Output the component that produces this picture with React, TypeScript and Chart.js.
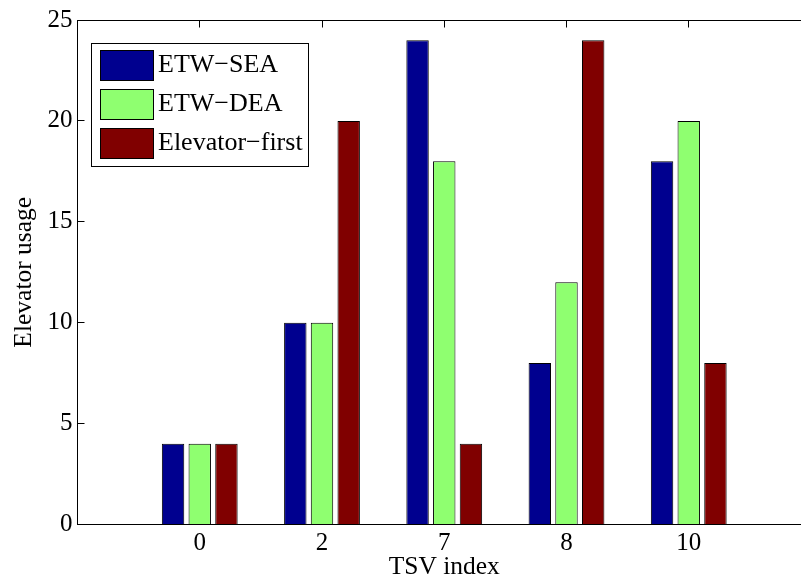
import React, { useEffect, useRef } from "react";
import { Chart, registerables } from "chart.js";

Chart.register(...registerables);

// ---- data ----
const categories = ["0", "2", "7", "8", "10"];
const seriesNames = ["ETW\u2212SEA", "ETW\u2212DEA", "Elevator\u2212first"];
const etwSea = [4, 10, 24, 8, 18];
const etwDea = [4, 10, 18, 12, 20];
const elevatorFirst = [4, 20, 4, 24, 8];
const yTicks = [0, 5, 10, 15, 20, 25];
const xTitle = "TSV index";
const yTitle = "Elevator usage";

// ---- style ----
const colors = ["#00008F", "#8FFF70", "#800000"];
const FONT = "'Liberation Serif', 'Times New Roman', serif";
const FS = 25;
const LFS = 26;
const CW = 830;
const CH = 584;

const framePlugin = {
  id: "matlabFrame",
  beforeDatasetsDraw(chart: any) {
    const { ctx, chartArea: a, scales } = chart;
    const x = scales.x;
    const y = scales.y;
    ctx.save();
    ctx.strokeStyle = "#000";
    ctx.lineWidth = 1;
    ctx.beginPath();
    const L = Math.floor(a.left) + 0.5;
    const R = Math.floor(a.right) + 0.5;
    const T = Math.floor(a.top) + 0.5;
    const B = Math.floor(a.bottom) + 0.5;
    for (const v of yTicks) {
      const py = Math.floor(y.getPixelForValue(v)) + 0.5;
      ctx.moveTo(L, py);
      ctx.lineTo(L + 7, py);
      ctx.moveTo(R, py);
      ctx.lineTo(R - 7, py);
    }
    for (let i = 0; i < categories.length; i++) {
      const px = Math.floor(x.getPixelForValue(i + 1)) + 0.5;
      ctx.moveTo(px, T);
      ctx.lineTo(px, T + 7);
      ctx.moveTo(px, B);
      ctx.lineTo(px, B - 7);
    }
    ctx.stroke();
    ctx.restore();
  },
  afterDatasetsDraw(chart: any) {
    const { ctx, chartArea: a } = chart;
    ctx.save();
    ctx.strokeStyle = "#000";
    ctx.lineWidth = 1;
    const L = Math.floor(a.left) + 0.5;
    const R = Math.floor(a.right) + 0.5;
    const T = Math.floor(a.top) + 0.5;
    const B = Math.floor(a.bottom) + 0.5;
    ctx.strokeRect(L, T, R - L, B - T);
    ctx.restore();
  },
  afterDraw(chart: any) {
    const { ctx } = chart;
    ctx.save();
    ctx.font = `${LFS}px ${FONT}`;
    const left = 91.5;
    const top = 43.5;
    const bottom = 166.5;
    const swX = 100.5;
    const swW = 53;
    const swH = 30;
    const textX = 158;
    const rowY0 = 64.5;
    const rowH = 39;
    const widths = seriesNames.map((n) => ctx.measureText(n).width);
    const right = Math.round(textX + Math.max(...widths) + 5) + 0.5;
    ctx.fillStyle = "#fff";
    ctx.fillRect(left, top, right - left, bottom - top);
    ctx.strokeStyle = "#000";
    ctx.lineWidth = 1;
    ctx.strokeRect(left, top, right - left, bottom - top);
    seriesNames.forEach((name, i) => {
      const cy = rowY0 + i * rowH;
      const sy = Math.round(cy - swH / 2) + 0.5;
      ctx.fillStyle = colors[i];
      ctx.fillRect(swX, sy, swW, swH);
      ctx.strokeStyle = "#000";
      ctx.strokeRect(swX, sy, swW, swH);
      ctx.fillStyle = "#000";
      ctx.textBaseline = "middle";
      ctx.textAlign = "left";
      ctx.fillText(name, textX, cy + 1);
    });
    ctx.restore();
  },
};

export default function App() {
  const ref = useRef<HTMLCanvasElement | null>(null);
  useEffect(() => {
    if (!ref.current) return;
    const series = [etwSea, etwDea, elevatorFirst];
    const chart = new Chart(ref.current, {
      type: "bar",
      data: {
        datasets: series.map((vals, s) => ({
          label: seriesNames[s],
          data: vals.map((v, i) => ({ x: i + 1, y: v })),
          backgroundColor: colors[s],
          borderColor: "#000",
          borderWidth: 1,
          borderSkipped: "start",
          categoryPercentage: 0.655,
          barPercentage: 0.84,
        })),
      },
      options: {
        responsive: false,
        animation: false,
        devicePixelRatio: 1,
        layout: { padding: { top: 15, right: CW - 811, left: 0, bottom: 0 } },
        plugins: {
          legend: { display: false },
          tooltip: { enabled: false },
        },
        scales: {
          x: {
            type: "linear",
            min: 0,
            max: 6,
            offset: false,
            grid: { display: false, drawTicks: false },
            border: { display: false },
            afterBuildTicks: (s: any) => {
              s.ticks = categories.map((_, i) => ({ value: i + 1 }));
            },
            ticks: {
              callback: (v: any) => categories[Number(v) - 1] ?? "",
              font: { family: FONT, size: FS },
              color: "#000",
              padding: 4,
              maxRotation: 0,
              autoSkip: false,
            },
            title: {
              display: true,
              text: xTitle,
              font: { family: FONT, size: 25.5 },
              color: "#000",
              padding: { top: 0, bottom: 1 },
            },
            afterFit: (s: any) => {
              s.height = CH - 524.5;
            },
          },
          y: {
            type: "linear",
            min: 0,
            max: 25,
            grid: { display: false, drawTicks: false },
            border: { display: false },
            afterBuildTicks: (s: any) => {
              s.ticks = yTicks.map((v) => ({ value: v }));
            },
            ticks: {
              font: { family: FONT, size: FS },
              color: "#000",
              padding: 5,
            },
            title: {
              display: true,
              text: yTitle,
              font: { family: FONT, size: 25.5 },
              color: "#000",
              padding: { top: 9, bottom: 0 },
            },
            afterFit: (s: any) => {
              s.width = 77.5;
            },
          },
        },
      },
      plugins: [framePlugin],
    } as any);
    return () => chart.destroy();
  }, []);
  return (
    <div
      style={{
        position: "absolute",
        left: 0,
        top: 0,
        width: 801,
        height: 584,
        overflow: "hidden",
        background: "#fff",
      }}
    >
      <canvas ref={ref} width={CW} height={CH} style={{ display: "block" }} />
    </div>
  );
}
